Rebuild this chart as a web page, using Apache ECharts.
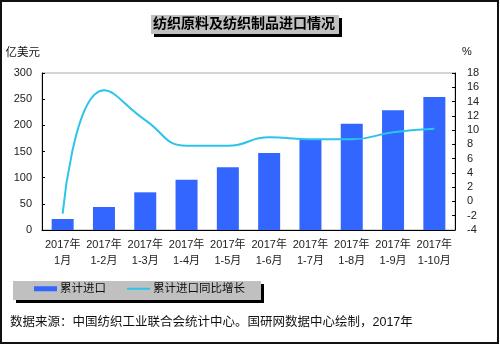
<!DOCTYPE html>
<html>
<head>
<meta charset="utf-8">
<script src="https://cdn.jsdelivr.net/npm/echarts@6/dist/echarts.min.js"></script>
<style>
html,body{margin:0;padding:0;background:#fff;}
#chart{width:500px;height:345px;}
</style>
</head>
<body>
<div id="chart"></div>
<script>
// 月份（累计区间）
var categories = ['2017年\n1月', '2017年\n1-2月', '2017年\n1-3月', '2017年\n1-4月', '2017年\n1-5月',
                  '2017年\n1-6月', '2017年\n1-7月', '2017年\n1-8月', '2017年\n1-9月', '2017年\n1-10月'];
// 累计进口（亿美元）
var importValues = [21, 44, 72, 96, 120, 147, 174, 203, 229, 254];
// 累计进口同比增长（%）
var growthValues = [-1.7, 15.6, 11.4, 7.8, 7.8, 9.0, 8.7, 8.7, 9.7, 10.2];

var cjk = '"Liberation Sans", Arial, "Noto Sans CJK SC", sans-serif';
var chart = echarts.init(document.getElementById('chart'), null, {renderer: 'canvas'});

chart.setOption({
  backgroundColor: '#ffffff',
  animation: false,
  textStyle: {fontFamily: cjk},
  graphic: [
    // outer frame
    {type: 'rect', shape: {x: 1, y: 1, width: 497, height: 342}, style: {fill: 'none', stroke: '#111', lineWidth: 2}, z: 0},
    // title box with shadow
    {type: 'rect', shape: {x: 154, y: 18, width: 188, height: 19}, style: {fill: '#000'}, z: 0},
    {type: 'rect', shape: {x: 151, y: 15, width: 188, height: 19}, style: {fill: '#c0c0c0'}, z: 0},
    // legend box with shadow
    {type: 'rect', shape: {x: 16, y: 284, width: 248, height: 19}, style: {fill: '#000'}, z: 0},
    {type: 'rect', shape: {x: 13, y: 281, width: 248, height: 19}, style: {fill: '#c0c0c0'}, z: 0},
    // source note
    {type: 'text', left: 10, top: 316, z: 10,
     style: {text: '数据来源：中国纺织工业联合会统计中心。国研网数据中心绘制，2017年',
             fill: '#111', font: '12.5px ' + cjk}}
  ],
  title: {
    text: '纺织原料及纺织制品进口情况',
    left: 153, top: 15, padding: [2, 0, 0, 0],
    textStyle: {fontSize: 14, fontWeight: 'bold', color: '#000', fontFamily: cjk}
  },
  legend: [
    {
      left: 34, top: 283, padding: 0,
      itemWidth: 23, itemHeight: 5, icon: 'rect',
      textStyle: {fontSize: 11.5, color: '#111', padding: [0, 0, 0, -2]},
      data: ['累计进口']
    },
    {
      left: 127, top: 283, padding: 0,
      itemWidth: 23, itemHeight: 2, icon: 'rect',
      textStyle: {fontSize: 11.5, color: '#111', padding: [0, 0, 0, -2]},
      data: ['累计进口同比增长']
    }
  ],
  grid: {left: 42, right: 45, top: 73, bottom: 115, show: true, borderColor: '#aaa', borderWidth: 1, backgroundColor: 'transparent'},
  xAxis: {
    type: 'category',
    data: categories,
    axisLine: {lineStyle: {color: '#000', width: 1}},
    axisTick: {inside: true, length: 4, lineStyle: {color: '#000'}},
    axisLabel: {color: '#222', fontSize: 11, lineHeight: 16, margin: 7, interval: 0}
  },
  yAxis: [
    {
      type: 'value', min: 0, max: 300, interval: 50,
      name: '亿美元', nameLocation: 'end', nameGap: 14,
      nameTextStyle: {color: '#111', fontSize: 11.5, align: 'right', padding: [0, 2, 0, 0]},
      axisLine: {show: true, lineStyle: {color: '#000'}},
      axisTick: {show: true, inside: true, length: 3, lineStyle: {color: '#000'}},
      axisLabel: {color: '#222', fontSize: 11, margin: 10},
      splitLine: {show: false}
    },
    {
      type: 'value', min: -4, max: 18, interval: 2, position: 'right',
      name: '%', nameLocation: 'end', nameGap: 16,
      nameTextStyle: {color: '#111', fontSize: 11, align: 'left', padding: [0, 0, 0, 7]},
      axisLine: {show: true, lineStyle: {color: '#000'}},
      axisTick: {show: true, inside: true, length: 3, lineStyle: {color: '#000'}},
      axisLabel: {color: '#222', fontSize: 11, margin: 12},
      splitLine: {show: false}
    }
  ],
  series: [
    {
      name: '累计进口', type: 'bar', yAxisIndex: 0,
      data: importValues, barWidth: 22,
      itemStyle: {color: '#3366ff'}
    },
    {
      name: '累计进口同比增长', type: 'line', yAxisIndex: 1,
      data: growthValues, smooth: 0.5, symbol: 'none',
      lineStyle: {color: '#2cc4ea', width: 2}, itemStyle: {color: '#2cc4ea'}
    }
  ]
});
</script>
</body>
</html>
